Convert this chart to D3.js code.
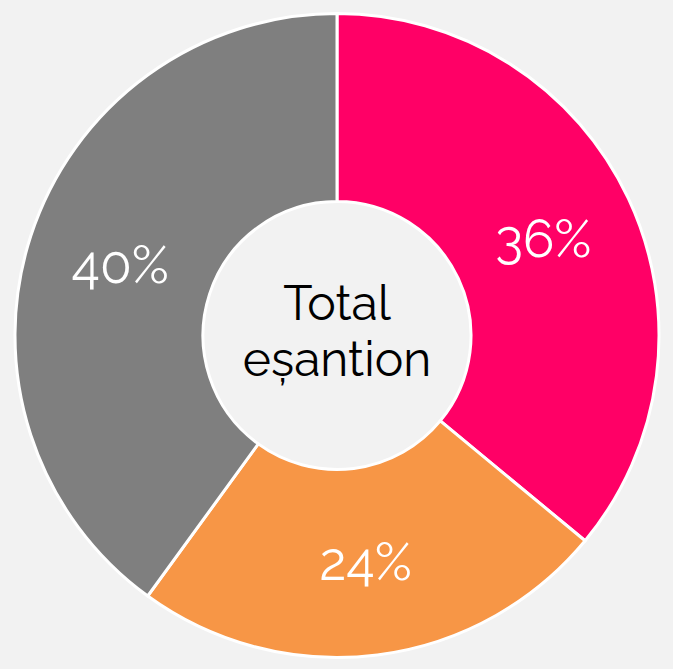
<!DOCTYPE html>
<html>
<head>
<meta charset="utf-8">
<script src="https://cdn.jsdelivr.net/npm/d3@7"></script>
<style>
  html, body { margin: 0; padding: 0; background: #f2f2f2; }
  svg { display: block; }
</style>
</head>
<body>
<svg id="chart" width="673" height="669"></svg>
<script>
const categories = ["A", "B", "C"];
const values = [36, 24, 40];
const labels = ["36%", "24%", "40%"];
const colors = ["#ff0066", "#f79646", "#7f7f7f"];
const centerLines = ["Total", "eșantion"];

const svg = d3.select("#chart");
const cx = 337, cy = 335.5, outerR = 322, innerR = 134;
const g = svg.append("g").attr("transform", `translate(${cx},${cy})`);

const pie = d3.pie().sort(null).value(d => d.v);
const data = pie(categories.map((c, i) => ({ c, v: values[i], label: labels[i], color: colors[i] })));
const arc = d3.arc().innerRadius(innerR).outerRadius(outerR);

g.selectAll("path.slice").data(data).join("path")
  .attr("class", "slice")
  .attr("d", arc)
  .attr("fill", d => d.data.color)
  .attr("stroke", "#ffffff")
  .attr("stroke-width", 3)
  .attr("stroke-linejoin", "miter");

const font = "Raleway, Lato, 'Open Sans', sans-serif";
g.selectAll("text.lbl").data(data).join("text")
  .attr("class", "lbl")
  .attr("transform", d => `translate(${arc.centroid(d)})`)
  .attr("text-anchor", "middle")
  .attr("dy", "0.35em")
  .attr("fill", "#ffffff")
  .style("font-family", font)
  .style("font-weight", 400)
  .style("font-size", "52px")
  .text(d => d.data.label);

g.append("text")
  .attr("text-anchor", "middle")
  .attr("fill", "#000000")
  .style("font-family", font)
  .style("font-weight", 400)
  .style("font-size", "48px")
  .selectAll("tspan").data(centerLines).join("tspan")
  .attr("x", 0)
  .attr("y", (d, i) => -16 + i * 56)
  .text(d => d);
</script>
</body>
</html>
